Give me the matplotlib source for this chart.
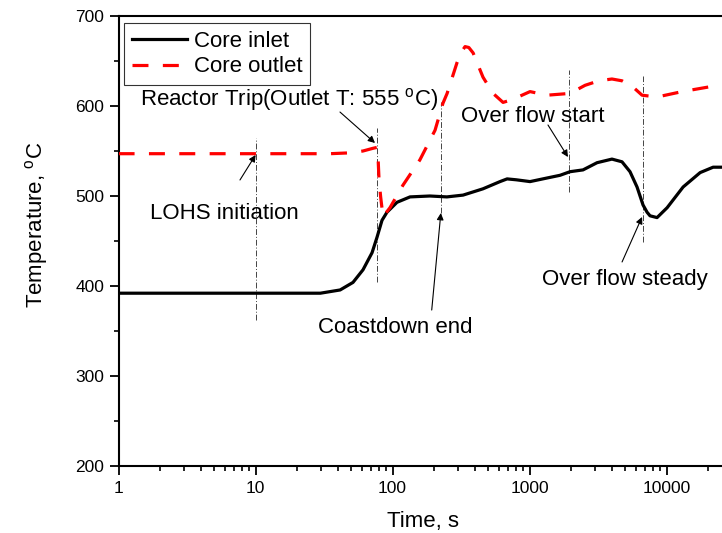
import numpy as np
import matplotlib
matplotlib.use("Agg")
import matplotlib.pyplot as plt

plt.rcParams['font.family'] = ['Liberation Sans', 'DejaVu Sans']
plt.rcParams['mathtext.fontset'] = 'custom'
plt.rcParams['mathtext.rm'] = 'Liberation Sans'

# core inlet temperature (black solid)
t_inlet = [1, 10, 29.7, 41.4, 51.4, 60.8, 70.8, 76.9, 83.7, 91, 107.7, 134, 187, 249, 327, 457, 608, 685,
           800, 1007, 1341, 1667, 1972, 2454, 3107, 3991, 4726, 5407, 6085, 6730, 7200, 7568, 8516, 10090,
           13200, 17570, 21850, 25330, 28000]
T_inlet = [392, 392, 392, 395.6, 404, 418, 437, 454, 473, 482, 493, 499, 500, 499, 501, 508, 516, 519,
           518, 516, 520, 523, 527, 529, 537, 541, 538, 527, 510, 490, 482, 478, 476, 487,
           510, 526, 532, 532, 532]

# core outlet temperature (red dashed)
t_outlet = [1, 10, 34.9, 50, 60.8, 71.9, 76.9, 78.3, 79.6, 81.8, 85.1, 95.7, 119, 158, 204, 233, 250, 295,
            315, 338, 360, 387, 457, 541, 640, 744, 1007, 1341, 1972, 2541, 3200, 3991, 4726, 5691, 6620,
            8516, 12980, 21850, 25330, 28000]
T_outlet = [547, 547, 547, 548, 550, 553, 554, 543, 518, 499, 477, 487, 512, 540, 573, 603, 614, 648,
            659, 666, 665, 659, 632, 614, 604, 607, 616, 612, 614, 623, 628, 630, 628, 621, 612,
            610, 616, 622, 623, 623]

# event markers: time, bottom, top
event_t = [10, 76.6, 227, 1955, 6700]
event_lo = [362, 404, 481, 504, 449]
event_hi = [564, 576, 604, 640, 633]

# annotations: label, text pos (left, center), arrow tail, arrow tip
labels = ['LOHS initiation', r'Reactor Trip(Outlet T: 555 $^\mathregular{o}$C)', 'Coastdown end',
          'Over flow start', 'Over flow steady']
label_xy = [(1.70, 481), (1.43, 606.7), (28.7, 354.4), (316, 587.8), (1233, 406.7)]
arrow_tail = [(7.69, 517.8), (41.3, 593.3), (193, 373.3), (1362, 578.9), (4730, 426.7)]
arrow_tip = [(10.0, 545.6), (74.4, 558.9), (225, 481.1), (1906, 543.3), (6620, 476.7)]

fig = plt.figure(figsize=(7.22, 5.33), dpi=100)
ax = fig.add_axes([118.6 / 722, 67 / 533, np.log10(28000) * 137 / 722, 450 / 533])

for t, lo, hi in zip(event_t, event_lo, event_hi):
    ax.plot([t, t], [lo, hi], color='#444444', lw=0.7, linestyle=(0, (6, 2, 1, 2)), zorder=1)

ax.plot(t_inlet, T_inlet, color='black', lw=2.3, label='Core inlet', zorder=3)
ax.plot(t_outlet, T_outlet, color='#ff0000', lw=2.3, dashes=(5, 4.5), dash_capstyle='butt',
        label='Core outlet', zorder=4)

for lab, (x, y) in zip(labels, label_xy):
    ax.text(x, y, lab, fontsize=16, ha='left', va='center')
for tail, tip in zip(arrow_tail, arrow_tip):
    ax.annotate('', xy=tip, xytext=tail,
                arrowprops=dict(arrowstyle='-|>', color='black', lw=0.8, mutation_scale=10,
                                shrinkA=0, shrinkB=0))

ax.set_xscale('log')
ax.set_xlim(1, 28000)
ax.set_ylim(200, 700)
ax.set_xticks([1, 10, 100, 1000, 10000])
ax.set_xticklabels(['1', '10', '100', '1000', '10000'])
ax.set_yticks([200, 300, 400, 500, 600, 700])
ax.set_yticks([250, 350, 450, 550, 650], minor=True)
ax.tick_params(which='major', direction='out', length=6.5, width=1.3, labelsize=12.5, pad=4)
ax.tick_params(which='minor', direction='out', length=3.5, width=1.2)
for s in ax.spines.values():
    s.set_linewidth(1.5)

ax.set_xlabel('Time, s', fontsize=16, labelpad=11)
ax.set_ylabel(r'Temperature, $^\mathregular{o}$C', fontsize=16)
ax.yaxis.set_label_coords(-0.112, 0.536)

leg = ax.legend(loc='upper left', bbox_to_anchor=(0.009, 0.984), fontsize=16, frameon=True, fancybox=False,
                handlelength=2.5, handletextpad=0.3, labelspacing=0.2, borderpad=0.35, borderaxespad=0)
leg.get_frame().set_edgecolor('black')
leg.get_frame().set_linewidth(0.8)

fig.savefig('out.png', dpi=100)
